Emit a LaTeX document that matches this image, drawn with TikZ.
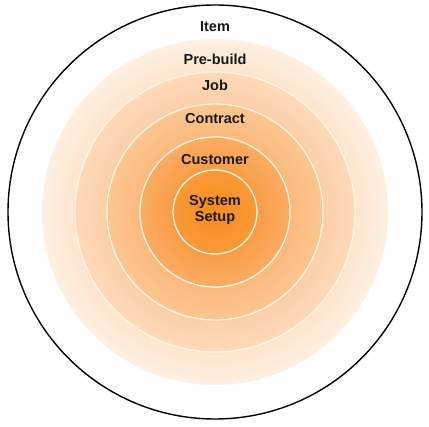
\documentclass[tikz,border=0pt]{standalone}
\usepackage{fontspec}
\setmainfont{Liberation Sans}
\definecolor{pre1}{HTML}{FEE4CC}
\definecolor{pre2}{HTML}{FEF0E2}
\definecolor{job1}{HTML}{FCCEA6}
\definecolor{job2}{HTML}{FDDABA}
\definecolor{con1}{HTML}{FBB97C}
\definecolor{con2}{HTML}{FCC690}
\definecolor{cus1}{HTML}{F99D46}
\definecolor{cus2}{HTML}{FAAC62}
\definecolor{sys1}{HTML}{F78C1C}
\definecolor{sys2}{HTML}{F89A38}
\definecolor{ringline}{HTML}{FFF6E6}
\pgfdeclareradialshading{shPre}{\pgfpoint{0bp}{0bp}}{color(0bp)=(pre1); color(20bp)=(pre1); color(25bp)=(pre2); color(50bp)=(pre2)}
\pgfdeclareradialshading{shJob}{\pgfpoint{0bp}{0bp}}{color(0bp)=(job1); color(19bp)=(job1); color(25bp)=(job2); color(50bp)=(job2)}
\pgfdeclareradialshading{shCon}{\pgfpoint{0bp}{0bp}}{color(0bp)=(con1); color(17bp)=(con1); color(25bp)=(con2); color(50bp)=(con2)}
\pgfdeclareradialshading{shCus}{\pgfpoint{0bp}{0bp}}{color(0bp)=(cus1); color(14bp)=(cus1); color(25bp)=(cus2); color(50bp)=(cus2)}
\pgfdeclareradialshading{shSys}{\pgfpoint{0bp}{0bp}}{color(0bp)=(sys1); color(25bp)=(sys2); color(50bp)=(sys2)}
\tikzset{
  ring/.style={circle, draw=ringline, line width=1.3pt, inner sep=0pt},
  lbl/.style={font=\fontsize{14.5}{17}\selectfont\bfseries, text=black!90, anchor=base, inner sep=0pt, align=center}
}
\begin{document}
\begin{tikzpicture}[x=1pt,y=1pt]
\useasboundingbox (0,0) rectangle (429,-427);
\coordinate (c) at (215,-212);
\node[circle, draw=black, line width=1.4pt, fill=white, minimum size=414pt, inner sep=0pt] (item) at (c) {};
\node[ring, draw=none, shading=shPre, minimum size=346pt] (pre) at (c) {};
\node[ring, shading=shJob, minimum size=280pt] (job) at (c) {};
\node[ring, shading=shCon, minimum size=216pt] (con) at (c) {};
\node[ring, shading=shCus, minimum size=150pt] (cus) at (c) {};
\node[ring, shading=shSys, minimum size=84pt] (sys) at (c) {};
\node[lbl] (tItem) at (215,-32) {Item};
\node[lbl] (tPre) at (215,-65) {Pre-build};
\node[lbl] (tJob) at (215,-91) {Job};
\node[lbl] (tCon) at (215,-124) {Contract};
\node[lbl] (tCus) at (215,-165) {Customer};
\node[lbl] (tSys) at (215,-206) {System};
\node[lbl] (tSet) at (215,-222) {Setup};
\end{tikzpicture}
\end{document}
